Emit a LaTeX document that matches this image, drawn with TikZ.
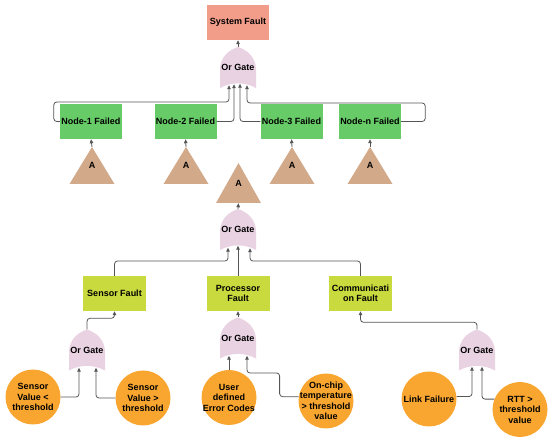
\documentclass[tikz,border=0pt]{standalone}
\usepackage{fontspec}
\setmainfont{Liberation Sans}
\usetikzlibrary{arrows.meta,calc}
\definecolor{sysc}{HTML}{F29D8A}
\definecolor{greenc}{HTML}{67CC67}
\definecolor{limec}{HTML}{C9DA3F}
\definecolor{tanc}{HTML}{D2AA8A}
\definecolor{pinkc}{HTML}{E9D2E2}
\definecolor{orangec}{HTML}{F9A631}
\definecolor{linec}{HTML}{555555}
\tikzset{
  base/.style={font=\bfseries\fontsize{9}{10.5}\selectfont, align=center, inner sep=0pt, text=black},
  sysbox/.style={base, fill=sysc, minimum width=62pt, minimum height=35pt},
  nodebox/.style={base, fill=greenc, minimum width=62pt, minimum height=35pt},
  faultbox/.style={base, fill=limec, minimum width=63pt, minimum height=35pt},
  tri/.style={base, minimum width=45pt, minimum height=#1,
    path picture={\fill[tanc] (path picture bounding box.south west) -- (path picture bounding box.south east) -- (path picture bounding box.north) -- cycle;}},
  tri/.default=37pt,
  gate/.style={base, minimum width=36pt, minimum height=41pt,
    path picture={\fill[reset cm, pinkc] let \p1=(path picture bounding box.south west), \p2=(path picture bounding box.north east), \n1={\x2-\x1}, \n2={\y2-\y1} in
      (\x1,\y1) -- (\x1,\y1+0.45*\n2) .. controls (\x1,\y1+0.75*\n2) and (\x1+0.25*\n1,\y1+0.93*\n2) .. (\x1+0.5*\n1,\y2)
      .. controls (\x1+0.75*\n1,\y1+0.93*\n2) and (\x2,\y1+0.75*\n2) .. (\x2,\y1+0.45*\n2) -- (\x2,\y1)
      .. controls (\x1+0.7*\n1,\y1+0.15*\n2) and (\x1+0.3*\n1,\y1+0.15*\n2) .. (\x1,\y1) -- cycle;}},
  leaf/.style={circle, fill=orangec, minimum size=55pt, inner sep=0pt},
  conn/.style={draw=linec, line width=0.8pt, rounded corners=3pt, -{Triangle[length=4pt,width=3.5pt]}},
}
\begin{document}
\begin{tikzpicture}[x=1pt,y=-1pt]
\useasboundingbox (0,0) rectangle (550,438);
% top level
\node[sysbox] (sys) at (238,22.5) {System Fault};
\node[gate] (g0) at (238,67.5) {Or Gate};
\node[nodebox] (n1) at (91,121.5) {Node-1 Failed};
\node[nodebox] (n2) at (185.5,121.5) {Node-2 Failed};
\node[nodebox] (n3) at (291.5,121.5) {Node-3 Failed};
\node[nodebox] (nn) at (370,121.5) {Node-n Failed};
\node[tri] (t1) at (92,165.5) {A};
\node[tri] (t2) at (186,165.5) {A};
\node[tri] (t3) at (292,165.5) {A};
\node[tri] (tn) at (370,165.5) {A};
% subtree A
\node[tri=40pt] (tc) at (238.5,183) {A};
\node[gate] (g1) at (238,229.5) {Or Gate};
\node[faultbox] (sf) at (114.5,293.5) {Sensor Fault};
\node[faultbox] (pf) at (238,293.5) {Processor\\Fault};
\node[faultbox] (cf) at (360.5,293.5) {Communicati\\on Fault};
\node[gate] (gs) at (87,350) {Or Gate};
\node[gate] (gp) at (238,338) {Or Gate};
\node[gate] (gc) at (477,350) {Or Gate};
\node[leaf, label={[base]center:{Sensor\\Value <\\threshold}}] (c1) at (33,397) {};
\node[leaf, label={[base]center:{Sensor\\Value >\\threshold}}] (c2) at (143,398) {};
\node[leaf, label={[base]center:{User\\defined\\Error Codes}}] (c3) at (229,397.5) {};
\node[leaf, label={[base]center:{On-chip\\temperature\\> threshold\\value}}] (c4) at (326,401) {};
\node[leaf, label={[base]center:{Link Failure}}] (c5) at (429,399) {};
\node[leaf, label={[base]center:{RTT >\\threshold\\value}}] (c6) at (520,409.5) {};
% connectors top
\draw[conn] (g0.north) -- (sys.south);
\draw[conn] (n1.west) -- ++(-6,0) |- (229,102) -- ([xshift=-9pt,yshift=3pt]g0.south);
\draw[conn] (n2.east) -| ([xshift=-4pt,yshift=4pt]g0.south);
\draw[conn] (n3.west) -| ([xshift=2pt,yshift=4.5pt]g0.south);
\draw[conn] (nn.east) -- ++(24,0) |- (247,103) -- ([xshift=9pt,yshift=3pt]g0.south);
\draw[conn] (t1.north) -- (n1.south);
\draw[conn] (t2.north) -- (n2.south);
\draw[conn] (t3.north) -- (n3.south);
\draw[conn] (tn.north) -- (nn.south);
% connectors subtree
\draw[conn] (g1.north) -- (tc.south);
\draw[conn] (sf.north) |- (228,261) -- ([xshift=-10pt,yshift=2.5pt]g1.south);
\draw[conn] (pf.north) -- ([yshift=4.5pt]g1.south);
\draw[conn] (cf.north) |- (250,261) -- ([xshift=12pt,yshift=2pt]g1.south);
\draw[conn] (gs.north) -- ++(0,-11) -| (sf.south);
\draw[conn] (gp.north) -- (pf.south);
\draw[conn] (gc.north) -- ++(0,-7) -| (cf.south);
\draw[conn] (c1.east) -| ([xshift=-8pt,yshift=3pt]gs.south);
\draw[conn] (c2.west) -| ([xshift=9pt,yshift=3pt]gs.south);
\draw[conn] (c3.north) -- ([xshift=-9pt,yshift=3pt]gp.south);
\draw[conn] (c4.171) -- ++(-19,0) |- (247,373) -- ([xshift=9pt,yshift=3pt]gp.south);
\draw[conn] (c5.5) -| ([xshift=-5pt,yshift=4pt]gc.south);
\draw[conn] (c6.158) -| ([xshift=5pt,yshift=4pt]gc.south);
\end{tikzpicture}
\end{document}
